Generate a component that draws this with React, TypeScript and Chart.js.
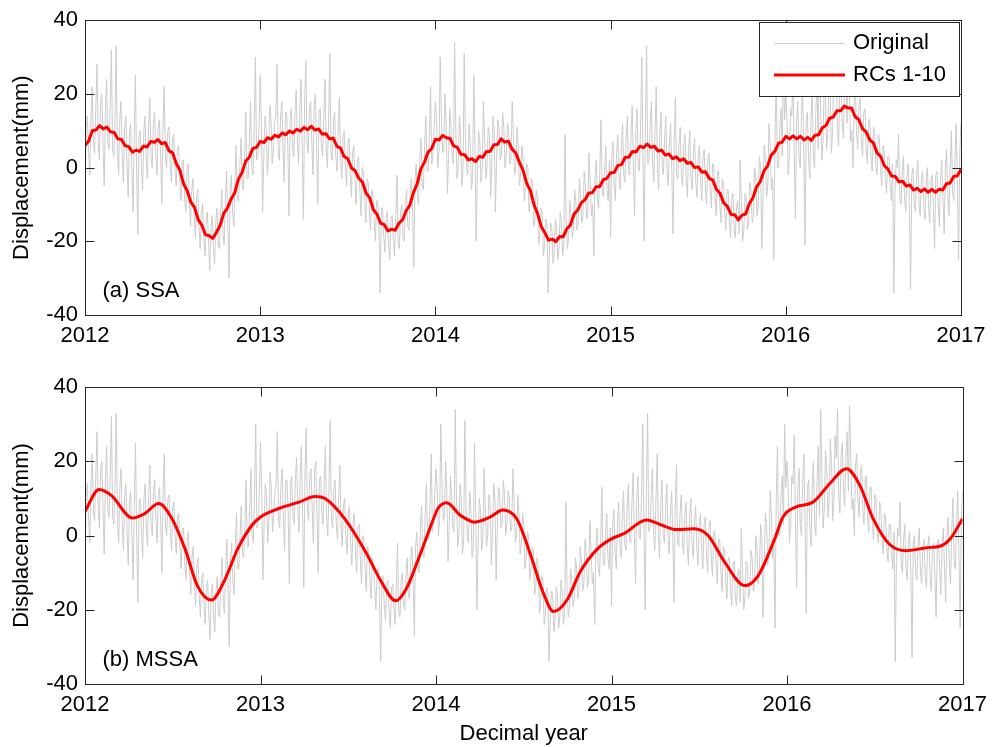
import React, { useEffect, useRef } from "react";
import { Chart, registerables } from "chart.js";

Chart.register(...registerables);

// ---- axes ----
const YEAR_MIN = 2012;
const YEAR_MAX = 2017;
const Y_MIN = -40;
const Y_MAX = 40;
const X_STEP = 1;
const Y_STEP = 20;

// ---- observed displacement: samples on 5-day marks (73 per year) ----
const ORIGINAL_PER_YEAR = 73;
const original2012 = [
  -15, 14, -2, 22, 4, 28, 2, 20, -5, 24, 5, 32, 3, 33, -2, 18, -4, 14, -8, 12,
  -12, 25, -18, 10, -6, 14, -3, 19, 0, 15, -2, 13, -10, 22, 0, 11, -4, 9, -5, 6,
  -9, 2, -12, 1, -16, -3, -19, -6, -22, -10, -24, -12, -28, -13, -26, -11, -22, -6, -21, -1,
  -30, -2, -16, 6, -9, 8, -6, 15, -3, 18, -2, 30, 3,
];
const original2013 = [
  25, -12, 14, -2, 17, 1, 12, 28, 2, 18, -4, 15, -13, 16, 3, 21, 1, 24, -14, 29,
  4, 18, -2, 20, -10, 16, 3, 24, 0, 31, 2, 15, -1, 19, -3, 10, -5, 8, -8, 6,
  -10, 3, -13, -1, -15, -4, -17, -8, -20, -9, -34, -11, -23, -12, -25, -13, -24, -2, -22, -10,
  -20, -6, -17, -3, -27, 1, -10, 8, -6, 14, -1, 22, 4,
];
const original2014 = [
  18, 0, 30, 4, 20, -7, 16, 2, 34, -3, 14, -5, 31, 0, 12, -6, 25, -20, 10, -4,
  18, -3, 11, -8, 14, -12, 13, 2, 15, 0, 12, 1, 18, -2, 11, -5, 6, -9, 1, -12,
  -3, -16, -6, -21, -11, -24, -14, -34, -15, -26, -14, -25, -12, -24, 9, -22, -9, -19, -6, -17,
  -3, -15, -1, -14, 4, -13, -24, 2, -11, 13, -8, 6, -9,
];
const original2015 = [
  -19, 7, -9, 9, -6, 12, -4, 14, -2, 17, -13, 16, -1, 30, -20, 33, 2, 18, -4, 22,
  -6, 15, -2, 14, -5, 12, -18, 19, -3, 11, -5, 9, -8, 10, -6, 8, -8, 6, -9, 5,
  -10, 4, -11, 1, -13, -1, -15, -4, -17, -6, -19, -7, -19, -9, 2, -20, -7, -17, -4, -15,
  0, -13, 3, -22, 6, -8, 12, -6, -25, 24, 0, 16, 30,
];
const original2016 = [
  20, -2, 16, 27, -14, 18, 0, 22, -21, 15, -3, 20, 0, 24, 34, 2, 23, 5, 26, 4,
  27, 34, 6, 25, 8, 28, 35, 7, 0, 22, 5, 19, 3, 16, 1, 13, -1, 10, -2, 8,
  -5, 5, -7, 3, -9, -34, 2, 9, -10, 3, -12, 1, -33, 0, -12, 2, -13, -1, -14, 0,
  -15, -2, -22, -1, -16, 2, -18, 5, -13, 10, -9, 12, -25,
];
// samples half-way between the 5-day marks
const originalMid2012 = [
  11, 4, 14, 6, 16, 7, 18, 6, 15, 7, 17, 5, 14, 4, 13, 3, 11, 1, 9, 0,
  8, -1, 9, 1, 10, 2, 11, 3, 12, 4, 11, 3, 12, 2, 10, 1, 8, -1, 5, -4,
  2, -8, -1, -10, -6, -13, -8, -16, -12, -19, -14, -21, -16, -22, -15, -21, -12, -18, -9, -15,
  -6, -12, -3, -9, 0, -5, 3, -3, 7, 0, 10, 2, 11,
];
const originalMid2013 = [
  12, 3, 11, 4, 13, 5, 14, 4, 14, 5, 15, 6, 14, 5, 15, 7, 16, 6, 17, 7,
  16, 7, 17, 6, 15, 6, 14, 5, 13, 4, 12, 3, 10, 2, 8, 0, 6, -2, 4, -4,
  2, -6, 0, -9, -3, -12, -6, -14, -9, -17, -11, -19, -13, -21, -14, -20, -13, -21, -12, -19,
  -10, -16, -6, -12, -3, -8, 2, -5, 6, -1, 9, 1, 11,
];
const originalMid2014 = [
  13, 4, 14, 5, 12, 3, 11, 1, 10, 0, 9, -1, 8, -2, 7, -3, 6, -2, 7, -1,
  8, 0, 9, 1, 10, 2, 11, 3, 11, 3, 10, 2, 9, 0, 6, -2, 3, -6, 0, -9,
  -4, -14, -8, -18, -12, -21, -15, -23, -16, -23, -16, -22, -15, -21, -14, -19, -12, -17, -9, -15,
  -7, -13, -5, -12, -4, -10, -3, -9, -1, -7, 0, -6, 2,
];
const originalMid2015 = [
  3, -5, 4, -3, 6, -2, 8, -1, 9, 0, 10, 0, 11, 1, 12, 1, 11, 1, 10, 0,
  9, 0, 8, -1, 7, -1, 7, -2, 6, -2, 6, -3, 5, -3, 4, -4, 3, -4, 3, -5,
  2, -6, 1, -8, -1, -10, -3, -12, -6, -15, -8, -17, -10, -18, -9, -17, -8, -15, -6, -13,
  -3, -10, 0, -8, 3, -5, 6, -3, 9, 0, 11, 3, 13,
];
const originalMid2016 = [
  13, 3, 14, 4, 13, 3, 14, 4, 13, 2, 14, 3, 15, 5, 17, 7, 19, 9, 20, 10,
  21, 11, 22, 12, 22, 12, 21, 10, 19, 9, 17, 7, 15, 5, 13, 3, 11, 1, 9, -1,
  6, -3, 3, -5, 1, -7, 0, -8, -1, -9, -2, -10, -2, -10, -2, -10, -3, -11, -3, -11,
  -3, -11, -2, -10, -2, -9, 0, -8, 1, -7, 3, -5, 4,
];
const originalEnd = 12;

// ---- SSA reconstruction (RCs 1-10), 48 samples per year ----
const SSA_PER_YEAR = 48;
const ssa2012 = [
  6.0, 7.2, 10.0, 10.2, 11.4, 10.5, 11.0, 9.7, 9.5, 7.8, 7.6, 5.9, 5.7, 4.2, 4.7, 4.4,
  5.8, 5.6, 7.1, 6.9, 7.6, 6.5, 6.8, 4.6, 4.0, 1.1, -0.7, -4.4, -6.3, -9.4, -10.8, -14.1,
  -15.6, -18.2, -18.5, -19.2, -17.6, -15.7, -12.5, -11.0, -8.6, -6.9, -3.2, -1.4, 1.7, 2.8, 5.2, 5.5,
];
const ssa2013 = [
  7.1, 6.8, 8.1, 7.7, 8.8, 8.3, 9.4, 8.9, 9.9, 9.4, 10.4, 9.9, 10.9, 10.3, 11.2, 10.2,
  10.5, 9.1, 9.2, 7.8, 8.0, 5.8, 5.3, 3.0, 2.4, -0.1, -0.8, -2.9, -3.9, -6.9, -8.2, -11.4,
  -12.7, -15.1, -15.5, -17.2, -16.7, -17.0, -15.1, -14.2, -11.7, -10.2, -6.7, -4.4, -0.4, 1.5, 4.2, 5.2,
];
const ssa2014 = [
  7.7, 7.5, 8.7, 8.1, 7.9, 5.9, 5.5, 3.6, 3.5, 2.1, 2.4, 1.6, 3.0, 2.8, 4.4, 4.4,
  6.2, 6.3, 7.8, 6.9, 7.2, 5.0, 4.0, 1.5, -0.7, -4.2, -6.2, -10.0, -12.5, -16.0, -17.7, -19.7,
  -19.4, -20.1, -18.7, -18.8, -16.6, -15.6, -12.6, -11.5, -9.5, -8.7, -6.9, -6.8, -5.2, -5.2, -3.3, -2.9,
];
const ssa2015 = [
  -1.4, -1.3, 0.6, 0.8, 2.8, 2.8, 4.4, 4.3, 5.8, 5.4, 6.4, 5.5, 5.8, 4.5, 4.7, 3.4,
  3.7, 2.4, 2.9, 1.9, 2.4, 1.2, 1.4, 0.0, 0.2, -1.2, -1.1, -2.9, -3.4, -5.9, -7.0, -9.6,
  -10.5, -12.7, -12.8, -14.2, -12.9, -12.6, -9.8, -8.2, -5.2, -3.8, -0.9, 0.4, 3.4, 4.4, 6.6, 6.9,
];
const ssa2016 = [
  8.5, 7.8, 8.6, 7.8, 8.5, 7.5, 8.2, 7.4, 8.8, 8.9, 10.8, 11.4, 13.4, 13.7, 15.4, 15.4,
  16.7, 16.2, 16.2, 13.8, 13.0, 10.6, 9.7, 7.5, 6.7, 4.0, 3.0, 0.5, -0.4, -2.3, -2.4, -3.9,
  -3.7, -5.0, -4.7, -6.1, -5.6, -6.5, -5.8, -6.7, -5.9, -6.7, -5.9, -6.1, -4.4, -4.2, -2.4, -2.2,
];
const ssaEnd = -0.5;

// ---- MSSA reconstruction (RCs 1-10): decimal year / mm ----
const mssaYears = [
  2012.0, 2012.08, 2012.15, 2012.27, 2012.34, 2012.42, 2012.49, 2012.57, 2012.64, 2012.72,
  2012.79, 2012.87, 2012.95, 2013.0, 2013.1, 2013.22, 2013.31, 2013.37, 2013.48, 2013.6,
  2013.69, 2013.77, 2013.83, 2013.9, 2013.986, 2014.01, 2014.06, 2014.14, 2014.22, 2014.31,
  2014.38, 2014.46, 2014.54, 2014.61, 2014.67, 2014.75, 2014.82, 2014.92, 2015.0, 2015.07,
  2015.2, 2015.28, 2015.37, 2015.47, 2015.55, 2015.645, 2015.76, 2015.836, 2015.93, 2015.977,
  2016.053, 2016.149, 2016.244, 2016.339, 2016.415, 2016.491, 2016.587, 2016.682, 2016.758, 2016.815,
  2016.872, 2016.93, 2017.0,
];
const mssaValues = [
  6.5, 12.4, 10.8, 4.7, 5.9, 8.6, 5.0, -3.6, -13.5, -17.4,
  -12.6, -3.6, 2.7, 5.0, 7.2, 9.0, 10.5, 9.9, 4.5, -4.5,
  -12.6, -17.6, -14.4, -6.3, 4.5, 7.2, 8.8, 5.4, 3.6, 5.0,
  6.9, 4.5, -5.4, -15.3, -20.5, -17.1, -9.9, -3.6, -0.9, 0.5,
  4.2, 2.9, 1.6, 1.8, 0.0, -7.2, -13.5, -10.8, -0.9, 5.0,
  7.7, 9.0, 14.0, 18.0, 13.5, 4.5, -2.5, -4.1, -3.6, -3.2,
  -2.9, -0.9, 4.5,
];

// ---- styling ----
const FONT = "'Liberation Sans', Arial, Helvetica, sans-serif";
const FONT_SIZE = 22;
const AXIS_COLOR = "#262626";
const GRAY = "rgb(204,204,204)";
const RED = "rgb(255,0,0)";
const TICK_LEN = 9;

type Pt = { x: number; y: number };

// 5-day marks interleaved with the half-way samples
const interleave = (main: number[][], mid: number[][], perYear: number, end: number): Pt[] => {
  const pts: Pt[] = [];
  main.forEach((vals, k) => {
    vals.forEach((v, i) => {
      pts.push({ x: YEAR_MIN + k + i / perYear, y: v });
      pts.push({ x: YEAR_MIN + k + (i + 0.5) / perYear, y: mid[k][i] });
    });
  });
  pts.push({ x: YEAR_MAX, y: end });
  return pts;
};

const yearly = (rows: number[][], perYear: number, end: number): Pt[] => {
  const pts: Pt[] = [];
  rows.forEach((vals, k) => {
    vals.forEach((v, i) => pts.push({ x: YEAR_MIN + k + i / perYear, y: v }));
  });
  pts.push({ x: YEAR_MAX, y: end });
  return pts;
};

const originalSeries = interleave(
  [original2012, original2013, original2014, original2015, original2016],
  [originalMid2012, originalMid2013, originalMid2014, originalMid2015, originalMid2016],
  ORIGINAL_PER_YEAR,
  originalEnd
);
const ssaSeries = yearly([ssa2012, ssa2013, ssa2014, ssa2015, ssa2016], SSA_PER_YEAR, ssaEnd);
const mssaSeries: Pt[] = mssaYears.map((x, i) => ({ x, y: mssaValues[i] }));

type PanelSpec = {
  label: string;
  height: number;
  padTop: number;
  padRight: number;
  xAxisHeight: number;
  showXTitle: boolean;
  legend: boolean;
  rc: Pt[];
  smooth: boolean;
};

const decorations = (spec: PanelSpec) => ({
  id: "decorations",
  afterDatasetsDraw(chart: any) {
    const { ctx, chartArea: a, scales } = chart;
    const L = Math.round(a.left) + 0.5;
    const R = Math.round(a.right) + 0.5;
    const T = Math.round(a.top) + 0.5;
    const B = Math.round(a.bottom) + 0.5;
    ctx.save();
    ctx.strokeStyle = AXIS_COLOR;
    ctx.lineWidth = 1;
    ctx.beginPath();
    for (let v = YEAR_MIN; v <= YEAR_MAX; v += X_STEP) {
      const px = Math.round(scales.x.getPixelForValue(v)) + 0.5;
      ctx.moveTo(px, B);
      ctx.lineTo(px, B - TICK_LEN);
      ctx.moveTo(px, T);
      ctx.lineTo(px, T + TICK_LEN);
    }
    for (let v = Y_MIN; v <= Y_MAX; v += Y_STEP) {
      const py = Math.round(scales.y.getPixelForValue(v)) + 0.5;
      ctx.moveTo(L, py);
      ctx.lineTo(L + TICK_LEN, py);
      ctx.moveTo(R, py);
      ctx.lineTo(R - TICK_LEN, py);
    }
    ctx.stroke();
    ctx.strokeRect(L, T, R - L, B - T);

    ctx.fillStyle = "#000";
    ctx.font = `${FONT_SIZE}px ${FONT}`;
    ctx.textAlign = "left";
    ctx.textBaseline = "alphabetic";
    ctx.fillText(spec.label, L + 17, B - 19);

    if (spec.legend) {
      const bx = 759.5;
      const by = 22.5;
      const bw = 200;
      const bh = 74;
      ctx.fillStyle = "#fff";
      ctx.fillRect(bx, by, bw, bh);
      ctx.strokeRect(bx, by, bw, bh);
      ctx.lineCap = "butt";
      ctx.strokeStyle = GRAY;
      ctx.lineWidth = 1;
      ctx.beginPath();
      ctx.moveTo(774, 43.5);
      ctx.lineTo(845, 43.5);
      ctx.stroke();
      ctx.strokeStyle = RED;
      ctx.lineWidth = 3;
      ctx.beginPath();
      ctx.moveTo(774, 75);
      ctx.lineTo(845, 75);
      ctx.stroke();
      ctx.fillStyle = "#000";
      ctx.textBaseline = "middle";
      ctx.fillText("Original", 853, 43);
      ctx.fillText("RCs 1-10", 853, 75);
    }
    ctx.restore();
  },
});

function Panel({ spec }: { spec: PanelSpec }) {
  const ref = useRef<HTMLCanvasElement | null>(null);
  useEffect(() => {
    if (!ref.current) return;
    const font = { family: FONT, size: FONT_SIZE };
    const chart = new Chart(ref.current, {
      type: "line",
      data: {
        datasets: [
          {
            label: "RCs 1-10",
            data: spec.rc,
            borderColor: RED,
            borderWidth: 3,
            pointRadius: 0,
            tension: 0,
            cubicInterpolationMode: spec.smooth ? "monotone" : "default",
            borderJoinStyle: "round",
            order: 0,
          } as any,
          {
            label: "Original",
            data: originalSeries,
            borderColor: GRAY,
            borderWidth: 1,
            pointRadius: 0,
            tension: 0,
            order: 1,
          },
        ],
      },
      options: {
        responsive: false,
        animation: false,
        devicePixelRatio: 1,
        parsing: false,
        normalized: true,
        layout: { padding: { top: spec.padTop, right: spec.padRight, left: 0, bottom: 0 } },
        plugins: { legend: { display: false }, tooltip: { enabled: false } },
        scales: {
          x: {
            type: "linear",
            min: YEAR_MIN,
            max: YEAR_MAX,
            grid: { display: false, drawTicks: false },
            border: { display: false },
            ticks: {
              stepSize: X_STEP,
              autoSkip: false,
              maxRotation: 0,
              padding: 8,
              color: "#000",
              font,
              callback: (v: any) => String(v),
            },
            title: {
              display: spec.showXTitle,
              text: "Decimal year",
              color: "#000",
              font,
              padding: { top: 0, bottom: 0 },
            },
            afterFit: (s: any) => {
              s.height = spec.xAxisHeight;
            },
          },
          y: {
            type: "linear",
            min: Y_MIN,
            max: Y_MAX,
            grid: { display: false, drawTicks: false },
            border: { display: false },
            ticks: { stepSize: Y_STEP, padding: 7, color: "#000", font },
            title: {
              display: true,
              text: "Displacement(mm)",
              color: "#000",
              font,
              padding: { top: 9, bottom: 0 },
            },
            afterFit: (s: any) => {
              s.width = 85;
            },
          },
        },
      },
      plugins: [decorations(spec)],
    });
    return () => chart.destroy();
  }, [spec]);
  return <canvas ref={ref} width={995} height={spec.height} style={{ display: "block" }} />;
}

const topPanel: PanelSpec = {
  label: "(a) SSA",
  height: 360,
  padTop: 18,
  padRight: 34,
  xAxisHeight: 45,
  showXTitle: false,
  legend: true,
  rc: ssaSeries,
  smooth: false,
};

const bottomPanel: PanelSpec = {
  label: "(b) MSSA",
  height: 387,
  padTop: 27,
  padRight: 31,
  xAxisHeight: 63,
  showXTitle: true,
  legend: false,
  rc: mssaSeries,
  smooth: true,
};

export default function App() {
  return (
    <div
      style={{
        position: "absolute",
        left: 0,
        top: 0,
        width: 995,
        height: 747,
        background: "#fff",
      }}
    >
      <Panel spec={topPanel} />
      <Panel spec={bottomPanel} />
    </div>
  );
}
